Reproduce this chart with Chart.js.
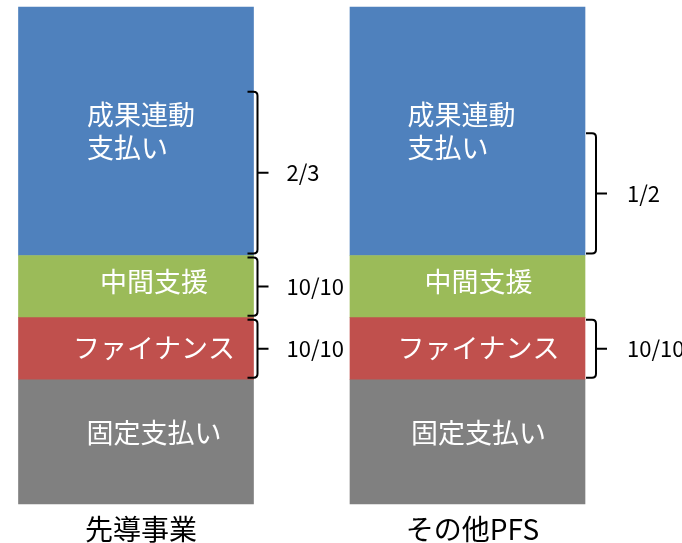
<!DOCTYPE html>
<html>
<head>
<meta charset="utf-8">
<script src="https://cdn.jsdelivr.net/npm/chart.js@4/dist/chart.umd.min.js"></script>
<style>
  html, body { margin: 0; padding: 0; background: #ffffff; }
</style>
</head>
<body>
<canvas id="c" width="682" height="543"></canvas>
<script>
// Payment structure of the two project groups (stacked units)
const categories = ['先導事業', 'その他PFS'];
const fixedPayment = [2, 2];
const finance = [1, 1];
const intermediary = [1, 1];
const outcomePayment = [4, 4];

// Segment captions
const segmentNames = ['固定支払い', 'ファイナンス', '中間支援', ['成果連動', '支払い']];

// Subsidised share of each segment (null = no bracket)
const fixedShare = [null, null];
const financeShare = ['10/10', '10/10'];
const intermediaryShare = ['10/10', null];
const outcomeShare = ['2/3', '1/2'];

const FONT = '"Noto Sans CJK JP", "Noto Sans", sans-serif';

// Captions inside the bars and curly brackets with the subsidy share
const segmentDecor = {
  id: 'segmentDecor',
  afterDatasetsDraw(chart, args, opts) {
    const ctx = chart.ctx;
    const yScale = chart.scales.y;
    chart.data.datasets.forEach((ds, i) => {
      const meta = chart.getDatasetMeta(i);
      meta.data.forEach((bar, j) => {
        const p = bar.getProps(['x', 'y', 'base', 'width'], true);
        const top = Math.min(p.y, p.base), bottom = Math.max(p.y, p.base);
        const mid = (top + bottom) / 2;
        // caption
        ctx.save();
        ctx.fillStyle = '#ffffff';
        ctx.font = '27px ' + FONT;
        ctx.textBaseline = 'middle';
        const name = ds.caption;
        if (Array.isArray(name)) {
          ctx.textAlign = 'left';
          const lh = 33;
          const x0 = p.x + opts.multiLineDx[j];
          name.forEach((line, k) => {
            ctx.fillText(line, x0, mid + (k - (name.length - 1) / 2) * lh + ds.captionDy);
          });
        } else {
          ctx.textAlign = 'center';
          ctx.fillText(name, p.x + opts.captionDx[j], mid + ds.captionDy);
        }
        ctx.restore();

        // bracket
        const share = ds.share[j];
        if (!share) return;
        const [n, d] = share.split('/').map(Number);
        let start = 0;
        for (let k = 0; k < i; k++) start += chart.data.datasets[k].data[j];
        const value = ds.data[j];
        const yB = yScale.getPixelForValue(start) - 2;
        const yT = yScale.getPixelForValue(start + value * n / d) + 2;
        const yM = (yB + yT) / 2;
        const right = p.x + p.width / 2;
        const xV = right + opts.braceGap[j];
        const xH = xV - 10;
        const xTip = xV + 11;
        const r = 4;
        ctx.save();
        ctx.strokeStyle = '#000000';
        ctx.lineWidth = 2;
        ctx.beginPath();
        ctx.moveTo(xH, yT);
        ctx.lineTo(xV - r, yT);
        ctx.quadraticCurveTo(xV, yT, xV, yT + r);
        ctx.lineTo(xV, yB - r);
        ctx.quadraticCurveTo(xV, yB, xV - r, yB);
        ctx.lineTo(xH, yB);
        ctx.moveTo(xV, yM);
        ctx.lineTo(xTip, yM);
        ctx.stroke();
        ctx.fillStyle = '#000000';
        ctx.font = '22px ' + FONT;
        ctx.textAlign = 'left';
        ctx.textBaseline = 'middle';
        ctx.fillText(share, xTip + opts.labelGap[j], yM);
        ctx.restore();
      });
    });
  }
};

new Chart(document.getElementById('c'), {
  type: 'bar',
  data: {
    labels: categories,
    datasets: [
      { label: '固定支払い', data: fixedPayment, backgroundColor: '#808080', caption: segmentNames[0], share: fixedShare, captionDy: -9 },
      { label: 'ファイナンス', data: finance, backgroundColor: '#C0504D', caption: segmentNames[1], share: financeShare, captionDy: -1 },
      { label: '中間支援', data: intermediary, backgroundColor: '#9BBB59', caption: segmentNames[2], share: intermediaryShare, captionDy: -5 },
      { label: '成果連動支払い', data: outcomePayment, backgroundColor: '#4F81BD', caption: segmentNames[3], share: outcomeShare, captionDy: 0 }
    ].map(ds => Object.assign(ds, { barThickness: 235, borderWidth: 0, clip: false }))
  },
  options: {
    responsive: false,
    devicePixelRatio: 1,
    animation: false,
    layout: { padding: { left: 136, right: 214.5, top: 7, bottom: -3 } },
    scales: {
      x: {
        stacked: true,
        offset: false,
        grid: { display: false },
        border: { display: false },
        ticks: {
          color: '#000000',
          font: { family: FONT, size: 28, lineHeight: 1 },
          padding: 3,
          labelOffset: 5,
          maxRotation: 0,
          autoSkip: false
        }
      },
      y: { stacked: true, display: false, min: 0, max: 8 }
    },
    plugins: {
      legend: { display: false },
      tooltip: { enabled: false },
      segmentDecor: {
        captionDx: [18, 11],
        multiLineDx: [-49, -60],
        braceGap: [4, 11],
        labelGap: [18, 20]
      }
    }
  },
  plugins: [segmentDecor]
});
</script>
</body>
</html>
